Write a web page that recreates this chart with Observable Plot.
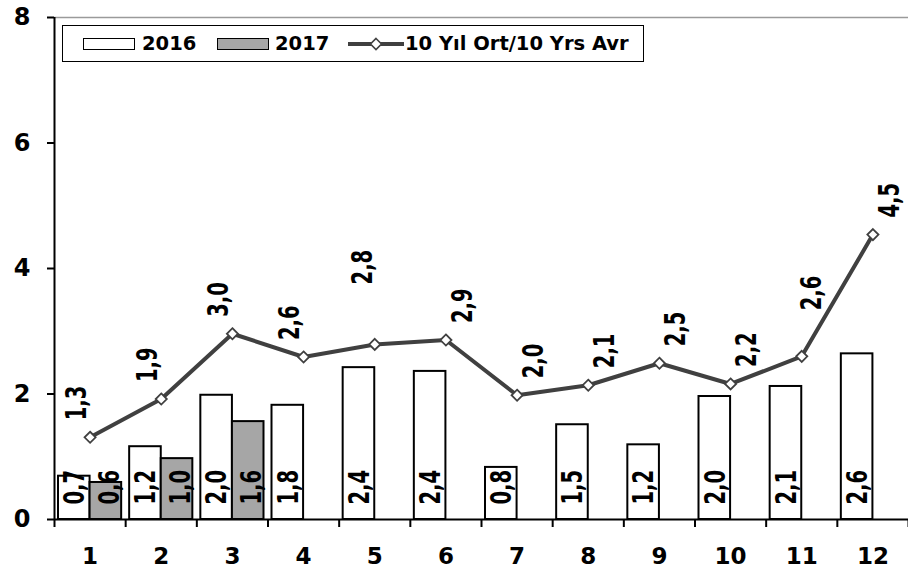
<!DOCTYPE html>
<html>
<head>
<meta charset="utf-8">
<script src="https://cdn.jsdelivr.net/npm/d3@7"></script>
<script src="https://cdn.jsdelivr.net/npm/@observablehq/plot@0.6"></script>
<style>
  html, body { margin: 0; padding: 0; background: #fff; overflow: hidden; }
  #wrap { position: relative; width: 908px; height: 573px; }
  #legend {
    position: absolute; left: 62px; top: 25px; width: 580px; height: 35px;
    border: 1.5px solid #000; background: #fff;
    font-family: "DejaVu Sans", Verdana, sans-serif; font-weight: bold; font-size: 19.5px; color: #000;
  }
  #legend .it { position: absolute; top: 0; height: 35px; display: flex; align-items: center; }
  #legend .sw { width: 50px; height: 10px; border: 1.5px solid #000; }
</style>
</head>
<body>
<div id="wrap">
  <div id="chart"></div>
  <div id="legend"></div>
</div>
<script>
// ---- data ----
const months = [1, 2, 3, 4, 5, 6, 7, 8, 9, 10, 11, 12];
const values2016 = [0.69, 1.16, 1.98, 1.82, 2.42, 2.36, 0.83, 1.51, 1.19, 1.96, 2.12, 2.64];
const months2017 = [1, 2, 3];
const values2017 = [0.59, 0.97, 1.56];
const avg10 = [1.31, 1.92, 2.96, 2.59, 2.79, 2.86, 1.98, 2.14, 2.49, 2.16, 2.60, 4.54];
const yTicks = [0, 2, 4, 6, 8];
const seriesNames = ["2016", "2017", "10 Yıl Ort/10 Yrs Avr"];

// ---- tables ----
const d2016 = months.map((m, i) => ({month: m, value: values2016[i]}));
const d2017 = months2017.map((m, i) => ({month: m, value: values2017[i]}));
const dAvg = months.map((m, i) => ({month: m, value: avg10[i]}));
const fmt = v => d3.format(".1f")(v).replace(".", ",");
const boundaries = [...months.map(m => m - 0.5), months[months.length - 1] + 0.5];
const xDomain = [boundaries[0], boundaries[boundaries.length - 1]];
const yDomain = [yTicks[0], yTicks[yTicks.length - 1]];

// ---- styling ----
const gray = "#a6a6a6";
const lineColor = "#404040";
const labelFont = {fontFamily: "'DejaVu Sans', Verdana, sans-serif", fontWeight: "bold", fontSize: 23};
// label placement groups for the average line (as placed in the original chart)
const avgLabelStyle = {
  left: {dx: -13, dy: -17},
  right: {dx: 17, dy: -17},
  liftLeft: {dx: -12, dy: -60},
  liftRight: {dx: 10, dy: -46}
};
const avgLabelGroup = m => m === 5 ? "liftLeft" : m === 11 ? "liftRight" : m <= 5 ? "left" : "right";

const avgLabelMarks = Object.entries(avgLabelStyle).map(([key, s]) =>
  Plot.text(dAvg.filter(d => avgLabelGroup(d.month) === key), {
    x: "month", y: "value", text: d => fmt(d.value), rotate: -90,
    textAnchor: "start", lineAnchor: "middle", dx: s.dx, dy: s.dy, fill: "#000", ...labelFont
  })
);

const chart = Plot.plot({
  width: 908,
  height: 573,
  marginLeft: 54,
  marginRight: 0,
  marginTop: 17,
  marginBottom: 54,
  style: {fontFamily: "'DejaVu Sans', Verdana, sans-serif", background: "#fff", color: "#000", overflow: "visible"},
  x: {type: "linear", domain: xDomain},
  y: {domain: yDomain},
  marks: [
    Plot.ruleY([yDomain[1]], {stroke: "#9a9a9a", strokeWidth: 1.5}),
    // bars
    Plot.rectY(d2016, {x1: d => d.month - 0.5, x2: d => d.month, y: "value", fill: "#fff", stroke: "#000", strokeWidth: 2, insetLeft: 4, insetRight: 0}),
    Plot.rectY(d2017, {x1: d => d.month, x2: d => d.month + 0.5, y: "value", fill: gray, stroke: "#000", strokeWidth: 2, insetLeft: 0, insetRight: 4}),
    // bar labels
    Plot.text(d2016, {x: d => d.month - 0.25, y: 0, text: d => fmt(d.value), rotate: -90, textAnchor: "start", lineAnchor: "middle", dy: -15, dx: 3, fill: "#000", ...labelFont}),
    Plot.text(d2017, {x: d => d.month + 0.25, y: 0, text: d => fmt(d.value), rotate: -90, textAnchor: "start", lineAnchor: "middle", dy: -15, dx: 2, fill: "#000", ...labelFont}),
    // 10-year average line
    Plot.line(dAvg, {x: "month", y: "value", stroke: lineColor, strokeWidth: 4}),
    Plot.dot(dAvg, {x: "month", y: "value", symbol: "diamond2", r: 5, fill: "#fff", stroke: lineColor, strokeWidth: 1.8}),
    ...avgLabelMarks,
    // axes
    Plot.ruleY([yDomain[0]], {stroke: "#000", strokeWidth: 2}),
    Plot.ruleX([xDomain[0]], {stroke: "#000", strokeWidth: 2}),
    Plot.axisY({ticks: yTicks, tickSize: 7, tickPadding: 17, fontSize: 24, fontWeight: "bold", strokeWidth: 2, label: null}),
    Plot.axisX({ticks: boundaries, tickSize: 8, tickFormat: () => "", strokeWidth: 2, label: null}),
    Plot.axisX({ticks: months, tickSize: 0, tickPadding: 28, fontSize: 23, fontWeight: "bold", label: null})
  ]
});
// make the rotated value labels taller and narrower, like the reference's condensed bold face
d3.select(chart).selectAll('g[aria-label="text"] text').each(function() {
  const t = this.getAttribute("transform") || "";
  this.setAttribute("transform", t + " scale(0.85,1.2)");
});
document.getElementById("chart").appendChild(chart);

// ---- legend ----
const legend = document.getElementById("legend");
const items = [
  {left: 20, kind: "bar", fill: "#fff"},
  {left: 79, kind: "text", text: seriesNames[0]},
  {left: 154, kind: "bar", fill: gray},
  {left: 212, kind: "text", text: seriesNames[1]},
  {left: 285, kind: "line"},
  {left: 342, kind: "text", text: seriesNames[2]}
];
for (const it of items) {
  const el = document.createElement("div");
  el.className = "it";
  el.style.left = it.left + "px";
  if (it.kind === "bar") {
    const sw = document.createElement("div");
    sw.className = "sw";
    sw.style.background = it.fill;
    el.appendChild(sw);
  } else if (it.kind === "line") {
    el.innerHTML = `<svg width="56" height="14"><line x1="0" y1="7" x2="56" y2="7" stroke="${lineColor}" stroke-width="4"/><path d="M28,1.5 L33.5,7 L28,12.5 L22.5,7 Z" fill="#fff" stroke="${lineColor}" stroke-width="1.6"/></svg>`;
  } else {
    el.textContent = it.text;
  }
  legend.appendChild(el);
}
</script>
</body>
</html>
